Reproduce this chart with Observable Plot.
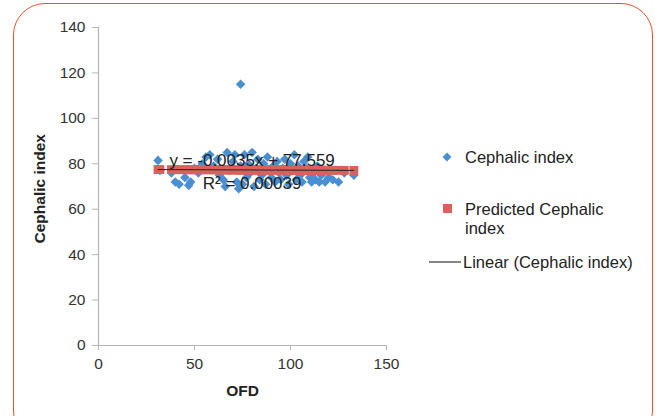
<!DOCTYPE html>
<html>
<head>
<meta charset="utf-8">
<script src="https://cdn.jsdelivr.net/npm/d3@7"></script>
<script src="https://cdn.jsdelivr.net/npm/@observablehq/plot@0.6"></script>
<style>
  body { margin: 0; background: #fff; overflow: hidden; }
  #wrap { position: relative; width: 657px; height: 416px; overflow: hidden; font-family: "Liberation Sans", Arial, sans-serif; }
  #frame { position: absolute; left: 13px; top: 3px; width: 640px; height: 440px; border: 1.5px solid #e8532b; border-radius: 32px; box-sizing: border-box; }
  #chart { position: absolute; left: 0; top: 0; }
  .leg { position: absolute; font-size: 16.5px; color: #222; line-height: 19px; }
</style>
</head>
<body>
<div id="wrap">
  <div id="frame"></div>
  <div id="chart"></div>
</div>
<script>
// Observed cephalic index vs OFD
const ofd = [31, 32, 38, 40, 42, 45, 47, 48, 50, 52, 54, 56, 58, 60, 62, 63, 65, 66, 67, 68,
             70, 71, 72, 73, 74, 74, 75, 76, 77, 78, 79, 80, 81, 82, 83, 84, 85, 86, 87, 88,
             89, 90, 91, 92, 93, 94, 95, 96, 97, 98, 99, 100, 101, 102, 103, 104, 105, 106, 107, 108,
             109, 110, 111, 112, 113, 114, 115, 116, 118, 120, 122, 125, 128, 133];
const cephalic = [81.5, 77, 76, 72, 71, 74, 70.5, 72, 78, 76, 80, 83, 84, 79, 82, 75, 73, 70, 85, 77,
                  81, 84, 72, 69, 115, 79, 71, 84, 74, 80, 76, 85, 70, 78, 82, 73, 75, 80, 71, 83,
                  77, 74, 79, 72, 81, 76, 73, 78, 82, 75, 71, 80, 77, 84, 73, 79, 75, 72, 81, 78,
                  83, 74, 72, 76, 73, 79, 72, 75, 72, 74, 73, 72, 76, 75];
// Predicted cephalic index (same OFD values)
const predicted = [77.45, 77.45, 77.43, 77.42, 77.41, 77.40, 77.39, 77.39, 77.38, 77.38, 77.37, 77.36, 77.36, 77.35, 77.34, 77.34, 77.33, 77.33, 77.32, 77.32,
                   77.31, 77.31, 77.31, 77.30, 77.30, 77.30, 77.30, 77.29, 77.29, 77.29, 77.28, 77.28, 77.28, 77.27, 77.27, 77.27, 77.26, 77.26, 77.25, 77.25,
                   77.25, 77.24, 77.24, 77.24, 77.23, 77.23, 77.23, 77.22, 77.22, 77.22, 77.21, 77.21, 77.21, 77.20, 77.20, 77.20, 77.19, 77.19, 77.19, 77.18,
                   77.18, 77.17, 77.17, 77.17, 77.16, 77.16, 77.16, 77.15, 77.15, 77.14, 77.13, 77.12, 77.11, 77.09];
// Linear trend
const slope = -0.0035, intercept = 77.559;
const trendX = [31, 133];
const xTicks = [0, 50, 100, 150];
const yTicks = [0, 20, 40, 60, 80, 100, 120, 140];
const eqLabels = ["y = -0.0035x + 77.559", "R² = 0.00039"];

const obs = ofd.map((x, i) => ({x, y: cephalic[i]}));
const pred = ofd.map((x, i) => ({x, y: predicted[i]}));
const trend = trendX.map(x => ({x, y: intercept + slope * x}));

const plot = Plot.plot({
  width: 657, height: 416,
  marginLeft: 98, marginRight: 271, marginTop: 27, marginBottom: 71,
  style: {fontFamily: '"Liberation Sans", Arial, sans-serif', fontSize: "15px", color: "#333", background: "transparent"},
  x: {domain: [0, 150], ticks: xTicks, label: null},
  y: {domain: [0, 140], ticks: yTicks, label: null},
  marks: [
    Plot.ruleY([0], {stroke: "#b5b5b5", strokeWidth: 1.2}),
    Plot.ruleX([0], {stroke: "#b5b5b5", strokeWidth: 1.2}),
    Plot.axisX({ticks: xTicks, tickSize: 5, stroke: "#b5b5b5", tickPadding: 7, fontSize: 15.5, fill: "#333"}),
    Plot.axisY({ticks: yTicks, tickSize: 6, stroke: "#b5b5b5", tickPadding: 7, fontSize: 15.5, fill: "#333"}),
    Plot.dot(obs, {x: "x", y: "y", symbol: "diamond2", r: 4.3, fill: "#4a8fd2", stroke: null}),
    Plot.dot(pred, {x: "x", y: "y", symbol: "square", r: 5, fill: "#d9625d", stroke: null}),
    Plot.line(trend, {x: "x", y: "y", stroke: "#222", strokeWidth: 1}),
    Plot.text([eqLabels[0]], {x: 80, y: 81.3, text: d => d, fontSize: 17, fill: "#222"}),
    Plot.text([eqLabels[1]], {x: 80, y: 71.4, text: d => d, fontSize: 17, fill: "#222"}),
    Plot.text(["OFD"], {x: 75, y: 0, dy: 46, text: d => d, fontSize: 15.5, fontWeight: "bold", fill: "#222"}),
    Plot.text(["Cephalic index"], {x: 0, y: 69, dx: -58, rotate: -90, text: d => d, fontSize: 15.5, fontWeight: "bold", fill: "#222"})
  ]
});
document.getElementById("chart").appendChild(plot);

// Legend
const wrap = document.getElementById("wrap");
const leg = d3.select(wrap);
const legSvg = leg.append("svg").attr("width", 657).attr("height", 416)
  .style("position", "absolute").style("left", 0).style("top", 0).style("pointer-events", "none");
legSvg.append("path").attr("d", d3.symbol(d3.symbolDiamond2, 50)()).attr("transform", "translate(447,157)").attr("fill", "#4a8fd2");
legSvg.append("rect").attr("x", 443).attr("y", 204).attr("width", 9).attr("height", 9).attr("fill", "#d9625d");
legSvg.append("line").attr("x1", 429).attr("x2", 461).attr("y1", 262).attr("y2", 262).attr("stroke", "#333").attr("stroke-width", 1.2);
const legendItems = [
  {text: "Cephalic index", left: 465, top: 147.5},
  {text: "Predicted Cephalic<br>index", left: 465, top: 199.5},
  {text: "Linear (Cephalic index)", left: 463, top: 252.5}
];
legendItems.forEach(d => {
  leg.append("div").attr("class", "leg").style("left", d.left + "px").style("top", d.top + "px").html(d.text);
});
</script>
</body>
</html>
